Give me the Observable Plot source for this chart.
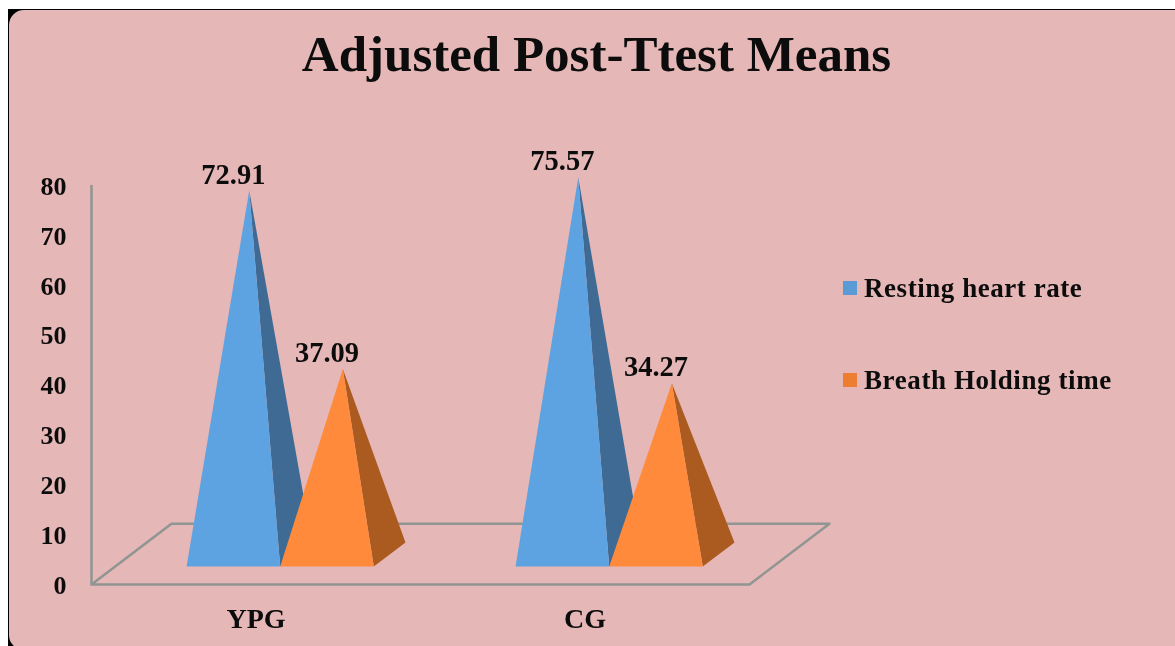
<!DOCTYPE html>
<html>
<head>
<meta charset="utf-8">
<script src="https://cdn.jsdelivr.net/npm/d3@7"></script>
<script src="https://cdn.jsdelivr.net/npm/@observablehq/plot@0.6"></script>
<style>
html,body{margin:0;padding:0;background:#fff;width:1175px;height:646px;overflow:hidden}
#frame{position:absolute;left:8px;top:9px;width:1180px;height:641px;background:#000}
#panel{position:absolute;left:1px;top:1px;right:0;bottom:0;background:#E6B7B7;border-radius:15px 0 0 15px}
#title{position:absolute;left:0;top:26px;width:1193px;text-align:center;font:bold 51px "Liberation Serif",serif;color:#0c0c0c;margin:0;line-height:56px;filter:blur(.3px)}
#chart{position:absolute;left:0;top:100px;filter:blur(.3px)}
.lg{position:absolute;left:864px;font:bold 27px "Liberation Serif",serif;color:#0c0c0c;white-space:nowrap;line-height:30px;filter:blur(.3px)}
.sw{position:absolute;left:843px;width:14px;height:14px}
text{font-family:"Liberation Serif",serif;font-weight:bold}
</style>
</head>
<body>
<div id="frame"><div id="panel"></div></div>
<h1 id="title">Adjusted Post-Ttest Means</h1>
<div id="chart"></div>
<div class="sw" style="top:281px;background:#5B9BD5"></div>
<div class="lg" style="top:273px;letter-spacing:.55px">Resting heart rate</div>
<div class="sw" style="top:373px;background:#ED7D31"></div>
<div class="lg" style="top:365px;letter-spacing:.6px">Breath Holding time</div>
<script>
const categories = ["YPG", "CG"];
const restingHeartRate = [72.91, 75.57];
const breathHoldingTime = [37.09, 34.27];
const yTicks = [0, 10, 20, 30, 40, 50, 60, 70, 80];

const colors = {
  rest: {front: "#5EA3E1", side: "#3E6A94"},
  hold: {front: "#FF8A3B", side: "#AB5B20"}
};
const axisGrey = "#8F9593";

// Oblique projection of the 3-D chart, in data units (x: category units, y: value units)
const depthX = 0.243, depthY = 12.2;        // floor depth
const baseY = 3.6;                          // front edge of a pyramid's base above the floor front
const sideX = 0.0964, sideY = 4.8;          // depth of a pyramid's base
const pyrWidth = 0.2845, groupInset = 0.289;

const faces = [];
const labels = [];
function addPyramid(id, i, slot, value, c) {
  const x0 = i + groupInset + slot * pyrWidth, x1 = x0 + pyrWidth;
  const ax = (x0 + x1) / 2 + sideX / 2, ay = value + depthY / 2;
  faces.push({id: id + "s", x: ax, y: ay, fill: c.side},
             {id: id + "s", x: x1, y: baseY, fill: c.side},
             {id: id + "s", x: x1 + sideX, y: baseY + sideY, fill: c.side});
  faces.push({id: id + "f", x: x0, y: baseY, fill: c.front},
             {id: id + "f", x: x1, y: baseY, fill: c.front},
             {id: id + "f", x: ax, y: ay, fill: c.front});
  labels.push({x: (x0 + x1) / 2, y: ay, text: value.toFixed(2)});
}
categories.forEach((cat, i) => {
  addPyramid(cat + "r", i, 0, restingHeartRate[i], colors.rest);
  addPyramid(cat + "h", i, 1, breathHoldingTime[i], colors.hold);
});

const floor = [
  {x: 0, y: 0}, {x: depthX, y: depthY}, {x: 2 + depthX, y: depthY},
  {x: 2, y: 0}, {x: 0, y: 0}
];

const plot = Plot.plot({
  width: 1175, height: 546,
  marginLeft: 91, marginRight: 426, marginTop: 85, marginBottom: 62,
  style: {background: "transparent", overflow: "visible", color: "#0c0c0c"},
  x: {domain: [0, 2], axis: null},
  y: {domain: [0, 80], axis: null},
  marks: [
    Plot.ruleX([0], {y1: 0, y2: 80, stroke: axisGrey, strokeWidth: 2.5}),
    Plot.line(floor, {x: "x", y: "y", stroke: axisGrey, strokeWidth: 2.5}),
    Plot.axisY({ticks: yTicks, tickSize: 0, tickPadding: 25, fontSize: 26, dy: 1, label: null}),
    Plot.axisX({ticks: [0.5, 1.5], tickFormat: d => categories[Math.floor(d)], tickSize: 0, tickPadding: 24, fontSize: 28, label: null}),
    Plot.line(faces, {x: "x", y: "y", z: "id", fill: "fill", stroke: null}),
    Plot.text(labels, {x: "x", y: "y", text: "text", dy: -16, fontSize: 28.5})
  ]
});
document.getElementById("chart").appendChild(plot);
</script>
</body>
</html>
